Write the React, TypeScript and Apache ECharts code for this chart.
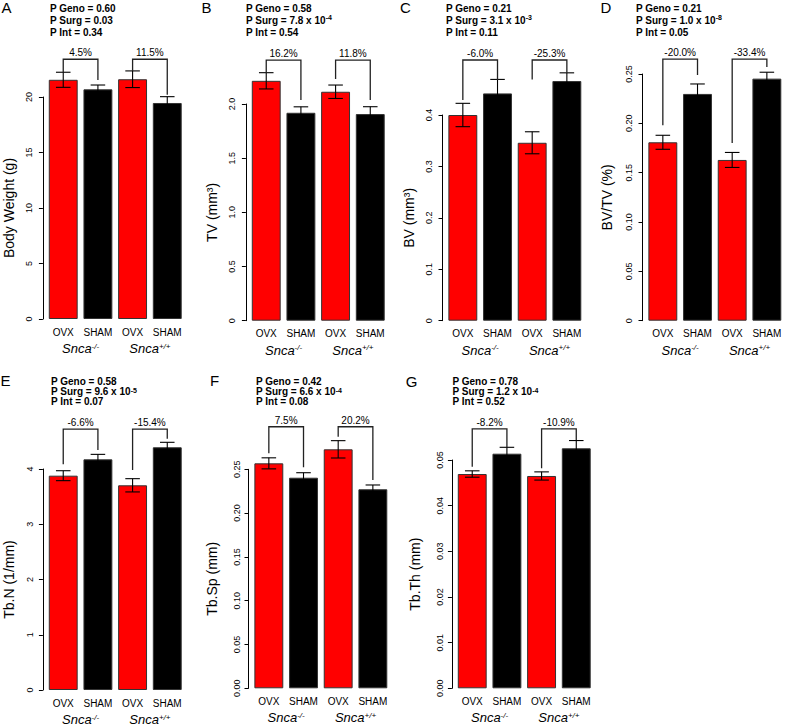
import React, { useEffect, useRef } from 'react';
import * as echarts from 'echarts';

const FONT = '"Liberation Sans", Arial, sans-serif';

// ---------- shared categories ----------
const groupLabels = ['OVX', 'SHAM', 'OVX', 'SHAM'];
const genotypeBase = 'Snca';
const genotypeSup = ['-/-', '+/+'];
const barColors = ['#ff0000', '#000000', '#ff0000', '#000000'];
const panelLetters = ['A', 'B', 'C', 'D', 'E', 'F', 'G'];
const yTitles = ['Body Weight (g)', 'TV (mm³)', 'BV (mm³)', 'BV/TV (%)', 'Tb.N (1/mm)', 'Tb.Sp (mm)', 'Tb.Th (mm)'];

// ---------- A: Body weight ----------
const bwMean = [21.55, 20.69, 21.6, 19.46];
const bwSem = [0.68, 0.39, 0.75, 0.57];
const bwTicks = ['0', '5', '10', '15', '20'];
const bwPct = ['4.5%', '11.5%'];
const bwLevel = [23.4, 23.4];
const bwLegs = [22.25, 21.53, 22.34, 20.2];
const bwP = ['0.60', '0.03', '0.34'];
const bwSurgExp = '';

// ---------- B: TV ----------
const tvMean = [2.214, 1.919, 2.113, 1.907];
const tvSem = [0.075, 0.055, 0.062, 0.068];
const tvTicks = ['0', '0.5', '1.0', '1.5', '2.0'];
const tvPct = ['16.2%', '11.8%'];
const tvLevel = [2.405, 2.405];
const tvLegs = [2.292, 2.036, 2.23, 2.036];
const tvP = ['0.58', '7.8 x 10', '0.54'];
const tvSurgExp = '-4';

// ---------- C: BV ----------
const bvMean = [0.4, 0.442, 0.346, 0.466];
const bvSem = [0.0227, 0.0272, 0.0214, 0.016];
const bvTicks = ['0', '0.1', '0.2', '0.3', '0.4'];
const bvPct = ['-6.0%', '-25.3%'];
const bvLevel = [0.507, 0.507];
const bvLegs = [0.429, 0.468, 0.469, 0.482];
const bvP = ['0.21', '3.1 x 10', '0.11'];
const bvSurgExp = '-3';

// ---------- D: BV/TV ----------
const bvtvMean = [0.1808, 0.2298, 0.1629, 0.2453];
const bvtvSem = [0.0071, 0.0101, 0.0076, 0.0065];
const bvtvTicks = ['0', '0.05', '0.10', '0.15', '0.20', '0.25'];
const bvtvPct = ['-20.0%', '-33.4%'];
const bvtvLevel = [0.265, 0.265];
const bvtvLegs = [0.198, 0.249, 0.18, 0.257];
const bvtvP = ['0.21', '1.0 x 10', '0.05'];
const bvtvSurgExp = '-8';

// ---------- E: Tb.N ----------
const tbnMean = [3.879, 4.175, 3.705, 4.393];
const tbnSem = [0.09, 0.09, 0.12, 0.09];
const tbnTicks = ['0', '1', '2', '3', '4'];
const tbnPct = ['-6.6%', '-15.4%'];
const tbnLevel = [4.72, 4.72];
const tbnLegs = [4.085, 4.344, 3.98, 4.548];
const tbnP = ['0.58', '9.6 x 10', '0.07'];
const tbnSurgExp = '-5';

// ---------- F: Tb.Sp ----------
const tbspMean = [0.2568, 0.2404, 0.2728, 0.2272];
const tbspSem = [0.0063, 0.0057, 0.0099, 0.0049];
const tbspTicks = ['0.00', '0.05', '0.10', '0.15', '0.20', '0.25'];
const tbspPct = ['7.5%', '20.2%'];
const tbspLevel = [0.2986, 0.2986];
const tbspLegs = [0.2683, 0.2523, 0.2872, 0.2378];
const tbspP = ['0.42', '6.6 x 10', '0.08'];
const tbspSurgExp = '-4';

// ---------- G: Tb.Th ----------
const tbthMean = [0.04693, 0.05138, 0.0465, 0.05256];
const tbthSem = [0.0007, 0.0014, 0.0009, 0.0017];
const tbthTicks = ['0.00', '0.01', '0.02', '0.03', '0.04', '0.05'];
const tbthPct = ['-8.2%', '-10.9%'];
const tbthLevel = [0.0568, 0.0568];
const tbthLegs = [0.04853, 0.05278, 0.04818, 0.05438];
const tbthP = ['0.78', '1.2 x 10', '0.52'];
const tbthSurgExp = '-4';

const panels = [
  { mean: bwMean, sem: bwSem, ticks: bwTicks, pct: bwPct, level: bwLevel, legs: bwLegs, p: bwP, exp: bwSurgExp },
  { mean: tvMean, sem: tvSem, ticks: tvTicks, pct: tvPct, level: tvLevel, legs: tvLegs, p: tvP, exp: tvSurgExp },
  { mean: bvMean, sem: bvSem, ticks: bvTicks, pct: bvPct, level: bvLevel, legs: bvLegs, p: bvP, exp: bvSurgExp },
  { mean: bvtvMean, sem: bvtvSem, ticks: bvtvTicks, pct: bvtvPct, level: bvtvLevel, legs: bvtvLegs, p: bvtvP, exp: bvtvSurgExp },
  { mean: tbnMean, sem: tbnSem, ticks: tbnTicks, pct: tbnPct, level: tbnLevel, legs: tbnLegs, p: tbnP, exp: tbnSurgExp },
  { mean: tbspMean, sem: tbspSem, ticks: tbspTicks, pct: tbspPct, level: tbspLevel, legs: tbspLegs, p: tbspP, exp: tbspSurgExp },
  { mean: tbthMean, sem: tbthSem, ticks: tbthTicks, pct: tbthPct, level: tbthLevel, legs: tbthLegs, p: tbthP, exp: tbthSurgExp },
];

// layout (pixels)
const GRID_W = 138.7;
const LAYOUT = [
  { left: 45.9, top: 97, height: 222, nameGap: 27, labelMargin: 9.5, letter: [1.5, 0], pText: [50, 2.3], lh: 12 },
  { left: 248.9, top: 104, height: 216.7, nameGap: 27, labelMargin: 9.3, letter: [201.5, 0], pText: [246, 2.3], lh: 12 },
  { left: 445.5, top: 115, height: 205.7, nameGap: 27, labelMargin: 9.3, letter: [400, 0], pText: [446, 2.3], lh: 12 },
  { left: 645.5, top: 74, height: 246.7, nameGap: 29, labelMargin: 8.9, letter: [600.5, 0], pText: [636, 2.3], lh: 12 },
  { left: 45.9, top: 469, height: 221, nameGap: 27, labelMargin: 8.7, letter: [0.5, 372.5], pText: [51, 376.7], lh: 10 },
  { left: 251.5, top: 469.3, height: 219, nameGap: 30, labelMargin: 6.7, letter: [210, 372.5], pText: [256, 376.7], lh: 10 },
  { left: 454.9, top: 460, height: 228.3, nameGap: 30, labelMargin: 7.7, letter: [405.7, 373.5], pText: [452.5, 376.7], lh: 10 },
];

function buildOption() {
  const grid: any[] = [];
  const xAxis: any[] = [];
  const yAxis: any[] = [];
  const series: any[] = [];
  const title: any[] = [];

  panels.forEach((p, k) => {
    const L = LAYOUT[k];
    grid.push({ left: L.left, top: L.top, width: GRID_W, height: L.height, containLabel: false });

    xAxis.push({
      type: 'category', gridIndex: k, data: groupLabels, position: 'bottom',
      axisLine: { show: false }, axisTick: { show: false }, splitLine: { show: false },
      axisLabel: { interval: 0, fontSize: 10, color: '#000', fontFamily: FONT, margin: 8 },
    });
    xAxis.push({
      type: 'category', gridIndex: k, data: genotypeSup.map((s) => genotypeBase + s), position: 'bottom',
      axisLine: { show: false }, axisTick: { show: false }, splitLine: { show: false },
      axisLabel: {
        interval: 0, margin: 23,
        formatter: (_v: string, i: number) => `{it|${genotypeBase}}{sup|${genotypeSup[i]}}`,
        rich: {
          it: { fontSize: 13, fontStyle: 'italic', fontFamily: FONT, color: '#000' },
          sup: { fontSize: 8, fontStyle: 'italic', fontFamily: FONT, color: '#000', verticalAlign: 'top', lineHeight: 9 },
        },
      },
    });

    const interval = parseFloat(p.ticks[1]);
    const max = parseFloat(p.ticks[p.ticks.length - 1]);
    yAxis.push({
      type: 'value', gridIndex: k, min: 0, max, interval, offset: 3,
      splitLine: { show: false },
      axisLine: { show: true, lineStyle: { color: '#000', width: 1 } },
      axisTick: { show: true, length: 4, lineStyle: { color: '#000', width: 1 } },
      axisLabel: {
        rotate: 90, fontSize: 9, color: '#000', fontFamily: FONT, margin: L.labelMargin,
        showMinLabel: true, showMaxLabel: true,
        formatter: (v: number) => p.ticks[Math.round(v / interval)] ?? '',
      },
      name: yTitles[k], nameLocation: 'middle', nameGap: L.nameGap,
      nameTextStyle: { fontSize: 14, color: '#000', fontFamily: FONT },
    });

    series.push({
      type: 'bar', xAxisIndex: 2 * k, yAxisIndex: k, clip: false, silent: true,
      barCategoryGap: '16.67%',
      itemStyle: { borderColor: '#333', borderWidth: 1 },
      data: p.mean.map((v, i) => ({ value: v, itemStyle: { color: barColors[i] } })),
    });

    series.push({
      type: 'custom', xAxisIndex: 2 * k, yAxisIndex: k, clip: false, silent: true, z: 4,
      data: p.mean.map((m, i) => [i, m, p.sem[i]]),
      renderItem: (_params: any, api: any) => {
        const i = api.value(0);
        const m = api.value(1);
        const s = api.value(2);
        const top = api.coord([i, m + s]);
        const bot = api.coord([i, m - s]);
        const hw = api.size([1, 0])[0] * 0.21;
        const st = { stroke: '#000', lineWidth: 1.1 };
        return {
          type: 'group',
          children: [
            { type: 'line', shape: { x1: top[0], y1: top[1], x2: bot[0], y2: bot[1] }, style: st },
            { type: 'line', shape: { x1: top[0] - hw, y1: top[1], x2: top[0] + hw, y2: top[1] }, style: st },
            { type: 'line', shape: { x1: bot[0] - hw, y1: bot[1], x2: bot[0] + hw, y2: bot[1] }, style: st },
          ],
        };
      },
    });

    series.push({
      type: 'custom', xAxisIndex: 2 * k, yAxisIndex: k, clip: false, silent: true, z: 5,
      data: [
        [0, p.level[0], 1, p.legs[0], p.legs[1]],
        [2, p.level[1], 3, p.legs[2], p.legs[3]],
      ],
      renderItem: (params: any, api: any) => {
        const li = api.value(0);
        const lev = api.value(1);
        const ri = api.value(2);
        const a = api.coord([li, api.value(3)]);
        const tl = api.coord([li, lev]);
        const tr = api.coord([ri, lev]);
        const b = api.coord([ri, api.value(4)]);
        return {
          type: 'group',
          children: [
            { type: 'polyline', shape: { points: [a, tl, tr, b] }, style: { stroke: '#222', lineWidth: 1.3, fill: 'none' } },
            {
              type: 'text', x: (tl[0] + tr[0]) / 2, y: tl[1] - 1.5,
              style: { text: p.pct[params.dataIndex], fill: '#000', fontSize: 10, fontFamily: FONT, align: 'center', verticalAlign: 'bottom' },
            },
          ],
        };
      },
    });

    title.push({
      text: panelLetters[k], left: L.letter[0], top: L.letter[1], padding: 0,
      textStyle: { fontSize: 15, fontWeight: 'normal', color: '#000', fontFamily: FONT },
    });
    const surg = p.exp ? `${p.p[1]}{sup|${p.exp}}` : p.p[1];
    title.push({
      text: `P Geno = ${p.p[0]}\nP Surg = ${surg}\nP Int = ${p.p[2]}`,
      left: L.pText[0], top: L.pText[1], padding: 0,
      textStyle: {
        fontSize: 10, fontWeight: 'bold', color: '#000', fontFamily: FONT, lineHeight: L.lh,
        rich: { sup: { fontSize: 7, fontWeight: 'bold', color: '#000', fontFamily: FONT, verticalAlign: 'top', lineHeight: 7 } },
      },
    });
  });

  return { animation: false, backgroundColor: '#fff', title, grid, xAxis, yAxis, series };
}

export default function App() {
  const ref = useRef<HTMLDivElement>(null);
  useEffect(() => {
    if (!ref.current) return;
    const chart = echarts.init(ref.current, null, { renderer: 'svg' });
    chart.setOption(buildOption() as any);
    return () => chart.dispose();
  }, []);
  return <div ref={ref} style={{ position: 'fixed', left: 0, top: 0, width: 787, height: 726, background: '#fff' }} />;
}
